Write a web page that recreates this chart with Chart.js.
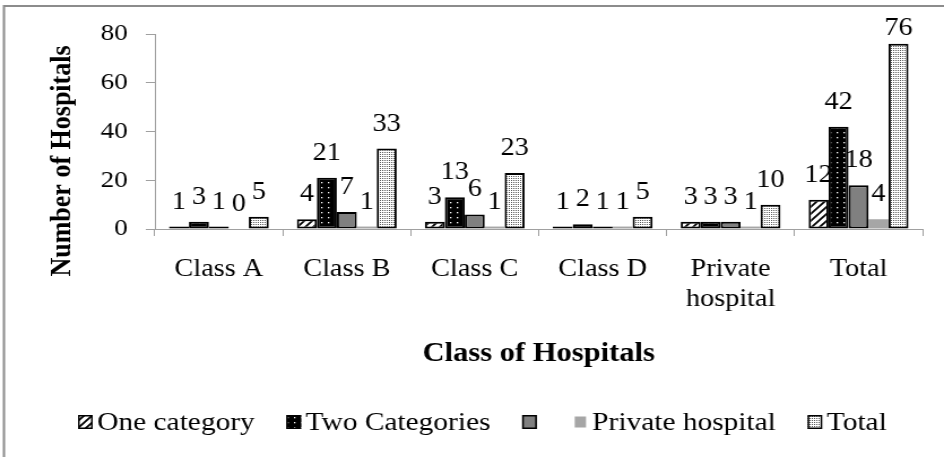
<!DOCTYPE html>
<html>
<head>
<meta charset="utf-8">
<script src="https://cdn.jsdelivr.net/npm/chart.js@4"></script>
<style>
  html, body { margin: 0; padding: 0; background: #fff; }
</style>
</head>
<body>
<!-- the reference text is a little wide for its height, so the canvas is stretched sideways -->
<canvas id="chart" width="835" height="457" style="display:block;width:944px;height:457px"></canvas>
<script>
// Data
const categories = ['Class A', 'Class B', 'Class C', 'Class D', ['Private', 'hospital'], 'Total'];
const seriesNames = ['One category', 'Two Categories', '', 'Private hospital', 'Total'];
const oneCategory = [1, 4, 3, 1, 3, 12];
const twoCategories = [3, 21, 13, 2, 3, 42];
const unnamedSeries = [1, 7, 6, 1, 3, 18];
const privateHospital = [0, 1, 1, 1, 1, 4];
const totals = [5, 33, 23, 5, 10, 76];
const yTicks = [0, 20, 40, 60, 80];
const xTitle = 'Class of Hospitals';
const yTitle = 'Number of Hospitals';

const seriesValues = [oneCategory, twoCategories, unnamedSeries, privateHospital, totals];

const canvas = document.getElementById('chart');
const serif = 'Liberation Serif, Times New Roman, serif';

// Fill patterns
function makePattern(w, h, draw) {
    const c = document.createElement('canvas');
    c.width = w;
    c.height = h;
    draw(c.getContext('2d'), w, h);
    return canvas.getContext('2d').createPattern(c, 'repeat');
}
const hatch = makePattern(7, 7, (g, w, h) => {
    g.fillStyle = '#fff';
    g.fillRect(0, 0, w, h);
    g.strokeStyle = '#000';
    g.lineWidth = 1.8;
    g.beginPath();
    g.moveTo(-1, h + 1); g.lineTo(w + 1, -1);
    g.moveTo(-1, 1); g.lineTo(1, -1);
    g.moveTo(w - 1, h + 1); g.lineTo(w + 1, h - 1);
    g.stroke();
});
const dots = makePattern(6, 5, (g, w, h) => {
    g.fillStyle = '#000';
    g.fillRect(0, 0, w, h);
    g.fillStyle = '#fff';
    g.fillRect(2, 2, 1.3, 1.3);
});
const fine = makePattern(2, 2, (g) => {
    g.fillStyle = '#fff';
    g.fillRect(0, 0, 2, 2);
    g.fillStyle = '#555';
    g.fillRect(0, 0, 1, 1);
});
const fills = [hatch, dots, '#808080', '#a6a6a6', fine];
const borderWidths = [2, 2, 2, 0, 2];

// Outer frame + white background
const framePlugin = {
    id: 'frame',
    beforeDraw(chart) {
        const ctx = chart.ctx;
        ctx.save();
        ctx.fillStyle = '#fff';
        ctx.fillRect(0, 0, chart.width, chart.height);
        ctx.strokeStyle = '#8c8c8c';
        ctx.lineWidth = 2;
        ctx.strokeRect(3.5, 6, chart.width + 20, chart.height + 20);
        ctx.restore();
    }
};

// Value labels above bars (drawn under the bars, as in the reference)
const valueLabels = {
    id: 'valueLabels',
    beforeDatasetsDraw(chart) {
        const ctx = chart.ctx;
        ctx.save();
        ctx.font = `25px ${serif}`;
        ctx.fillStyle = '#000';
        ctx.textAlign = 'center';
        ctx.textBaseline = 'alphabetic';
        chart.data.datasets.forEach((ds, i) => {
            chart.getDatasetMeta(i).data.forEach((bar, j) => {
                const y = Math.max(bar.y - 18, chart.chartArea.top + 1);
                ctx.fillText(String(ds.data[j]), bar.x, y);
            });
        });
        ctx.restore();
    }
};

// Axis titles and legend
const titlesAndLegend = {
    id: 'titlesAndLegend',
    afterDraw(chart) {
        const ctx = chart.ctx;
        const area = chart.chartArea;
        ctx.save();
        ctx.fillStyle = '#000';

        ctx.font = `bold 27px ${serif}`;
        ctx.textAlign = 'center';
        ctx.textBaseline = 'alphabetic';
        ctx.fillText(xTitle, (area.left + area.right) / 2, 361);

        ctx.save();
        ctx.translate(62, 161);
        ctx.rotate(-Math.PI / 2);
        ctx.font = `bold 26px ${serif}`;
        ctx.fillText(yTitle, 0, 0);
        ctx.restore();

        ctx.font = `26px ${serif}`;
        ctx.textAlign = 'left';
        const boxW = 13, boxH = 14, cy = 422;
        let x = 69;
        chart.data.datasets.forEach((ds) => {
            const inset = ds.borderWidth ? 0 : 1.5;
            ctx.fillStyle = ds.backgroundColor;
            ctx.fillRect(x + inset, cy - boxH / 2 + inset, boxW - 2 * inset, boxH - 2 * inset);
            if (ds.borderWidth) {
                ctx.strokeStyle = '#000';
                ctx.lineWidth = 1.5;
                ctx.strokeRect(x + 0.75, cy - boxH / 2 + 0.75, boxW - 1.5, boxH - 1.5);
            }
            x += boxW + 4;
            ctx.fillStyle = '#000';
            ctx.fillText(ds.label, x, 430);
            x += ctx.measureText(ds.label).width + 28;
        });
        ctx.restore();
    }
};

new Chart(canvas, {
    type: 'bar',
    data: {
        labels: categories,
        datasets: seriesNames.map((name, i) => ({
            label: name,
            data: seriesValues[i],
            backgroundColor: fills[i],
            borderColor: '#000',
            borderWidth: borderWidths[i],
            borderSkipped: false,
            categoryPercentage: 0.78,
            barPercentage: 1.0
        }))
    },
    options: {
        responsive: false,
        animation: false,
        devicePixelRatio: 1,
        layout: { padding: { left: 0, right: 19, top: 34, bottom: 0 } },
        plugins: {
            legend: { display: false },
            tooltip: { enabled: false }
        },
        scales: {
            x: {
                grid: { display: true, drawOnChartArea: false, offset: true, color: '#a0a0a0', tickLength: 7 },
                border: { color: '#a0a0a0', width: 1 },
                ticks: {
                    color: '#000',
                    font: { family: serif, size: 25 },
                    padding: 18,
                    maxRotation: 0,
                    autoSkip: false
                },
                afterFit: (s) => { s.height = 457 - 229; }
            },
            y: {
                min: yTicks[0],
                max: yTicks[yTicks.length - 1],
                grid: { display: true, drawOnChartArea: false, color: '#a0a0a0', tickLength: 8 },
                border: { color: '#a0a0a0', width: 1 },
                ticks: {
                    stepSize: yTicks[1] - yTicks[0],
                    color: '#000',
                    font: { family: serif, size: 24 },
                    padding: 16
                },
                afterFit: (s) => { s.width = 137; }
            }
        }
    },
    plugins: [framePlugin, valueLabels, titlesAndLegend]
});
</script>
</body>
</html>
